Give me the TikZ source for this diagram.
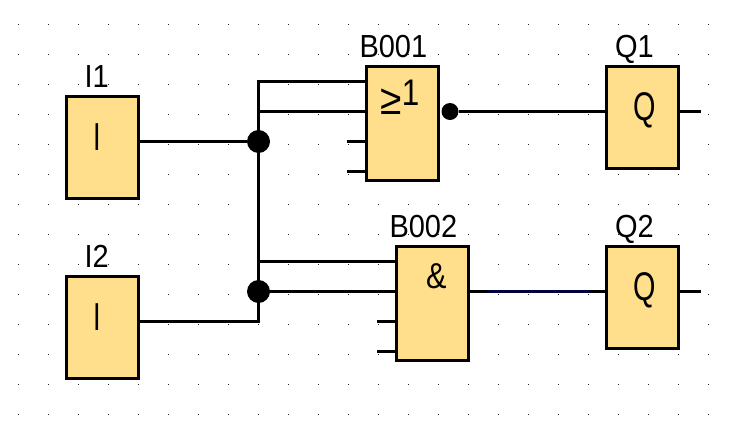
\documentclass[tikz,border=0pt]{standalone}
\usepackage{fontspec}
\setmainfont{Liberation Sans}
\definecolor{blockfill}{HTML}{FFDE8C}
\definecolor{navywire}{HTML}{000040}
\newcommand{\lbltext}[1]{\scalebox{1}[1.1]{\fontsize{29}{29}\selectfont #1}}
\newcommand{\bartext}{\scalebox{0.7}[1]{\fontsize{39}{39}\selectfont I}}
\newcommand{\qtext}{\scalebox{0.72}[1]{\fontsize{40}{40}\selectfont Q}}
\tikzset{
  block/.style={draw=black,line width=3pt,fill=blockfill,inner sep=0pt,outer sep=0pt,minimum width=72pt},
  inblock/.style={block,minimum height=102pt},
  gateblock/.style={block,minimum height=114pt},
  wire/.style={draw=black,line width=3pt},
  junction/.style={circle,fill=black,inner sep=0pt,outer sep=0pt,minimum size=23pt},
  bubble/.style={circle,fill=black,inner sep=0pt,outer sep=0pt,minimum size=17pt},
  tag/.style={anchor=base west,inner sep=0pt,outer sep=0pt},
  griddot/.style={fill=black!85}
}
\begin{document}
\begin{tikzpicture}[x=1pt,y=-1pt]
\useasboundingbox (0,0) rectangle (733,426);
\fill[white] (0,0) rectangle (733,426);
\foreach \gx in {18,48,...,708}
  \foreach \gy in {24,54,...,414}
    \fill[griddot] (\gx,\gy) rectangle ++(1,1);

\node[inblock] (i1) at (102.5,147.5) {};
\node[inblock] (i2) at (102.5,327.5) {};
\node[gateblock] (b1) at (402.5,123.5) {};
\node[gateblock] (b2) at (432.5,303.5) {};
\node[inblock] (q1) at (642.5,117.5) {};
\node[inblock] (q2) at (642.5,297.5) {};
\node[junction] (j1) at (258.5,141.5) {};
\node[junction] (j2) at (258.5,291.5) {};
\node[bubble] (nb) at (450,111.5) {};

\node[tag] (li1) at (84.5,87) {\lbltext{I1}};
\node[tag] (li2) at (84.5,267) {\lbltext{I2}};
\node[tag] (lb1) at (359.5,57) {\lbltext{B001}};
\node[tag] (lb2) at (389.5,237) {\lbltext{B002}};
\node[tag] (lq1) at (615,57) {\lbltext{Q1}};
\node[tag] (lq2) at (615,237) {\lbltext{Q2}};

\node[tag] (si1) at (93.7,150) {\bartext};
\node[tag] (si2) at (93.7,330) {\bartext};
\node[tag] (sb1) at (380.5,105) {\fontsize{37}{37}\selectfont\raisebox{-9pt}{\scalebox{1.05}[1.15]{≥}}\scalebox{0.85}[1]{1}};
\node[tag] (sb2) at (426,288) {\scalebox{0.85}[1]{\fontsize{36}{36}\selectfont\&}};
\node[tag] (sq1) at (633.5,120) {\qtext};
\node[tag] (sq2) at (633.5,300) {\qtext};

\coordinate (trunktop) at (258.5,81.5);
\coordinate (trunkbot) at (258.5,321.5);
\coordinate (s13) at (347,141.5);
\coordinate (s14) at (347,171.5);
\coordinate (s23) at (377,321.5);
\coordinate (s24) at (377,351.5);
\coordinate (o1) at (701,111.5);
\coordinate (o2) at (701,291.5);
\coordinate (n1) at (488,291.5);
\coordinate (n2) at (589,291.5);

\draw[wire] (i1.east |- j1) -- (j1);
\draw[wire] (i2.east |- trunkbot) -- (trunkbot) -- (trunktop) -- (b1.west |- trunktop);
\draw[wire] (258.5,111.5) -- (b1.west |- nb);
\draw[wire] (258.5,261.5) -- (b2.west |- 0,261.5);
\draw[wire] (j2) -- (b2.west |- j2);
\draw[wire] (s13) -- (b1.west |- s13);
\draw[wire] (s14) -- (b1.west |- s14);
\draw[wire] (s23) -- (b2.west |- s23);
\draw[wire] (s24) -- (b2.west |- s24);
\draw[wire] (nb) -- (q1.west |- nb);
\draw[wire] (q1.east |- o1) -- (o1);
\draw[wire] (b2.east |- n1) -- (n1);
\draw[wire,draw=navywire] (n1) -- (n2);
\draw[wire] (n2) -- (q2.west |- n2);
\draw[wire] (q2.east |- o2) -- (o2);
\end{tikzpicture}
\end{document}
